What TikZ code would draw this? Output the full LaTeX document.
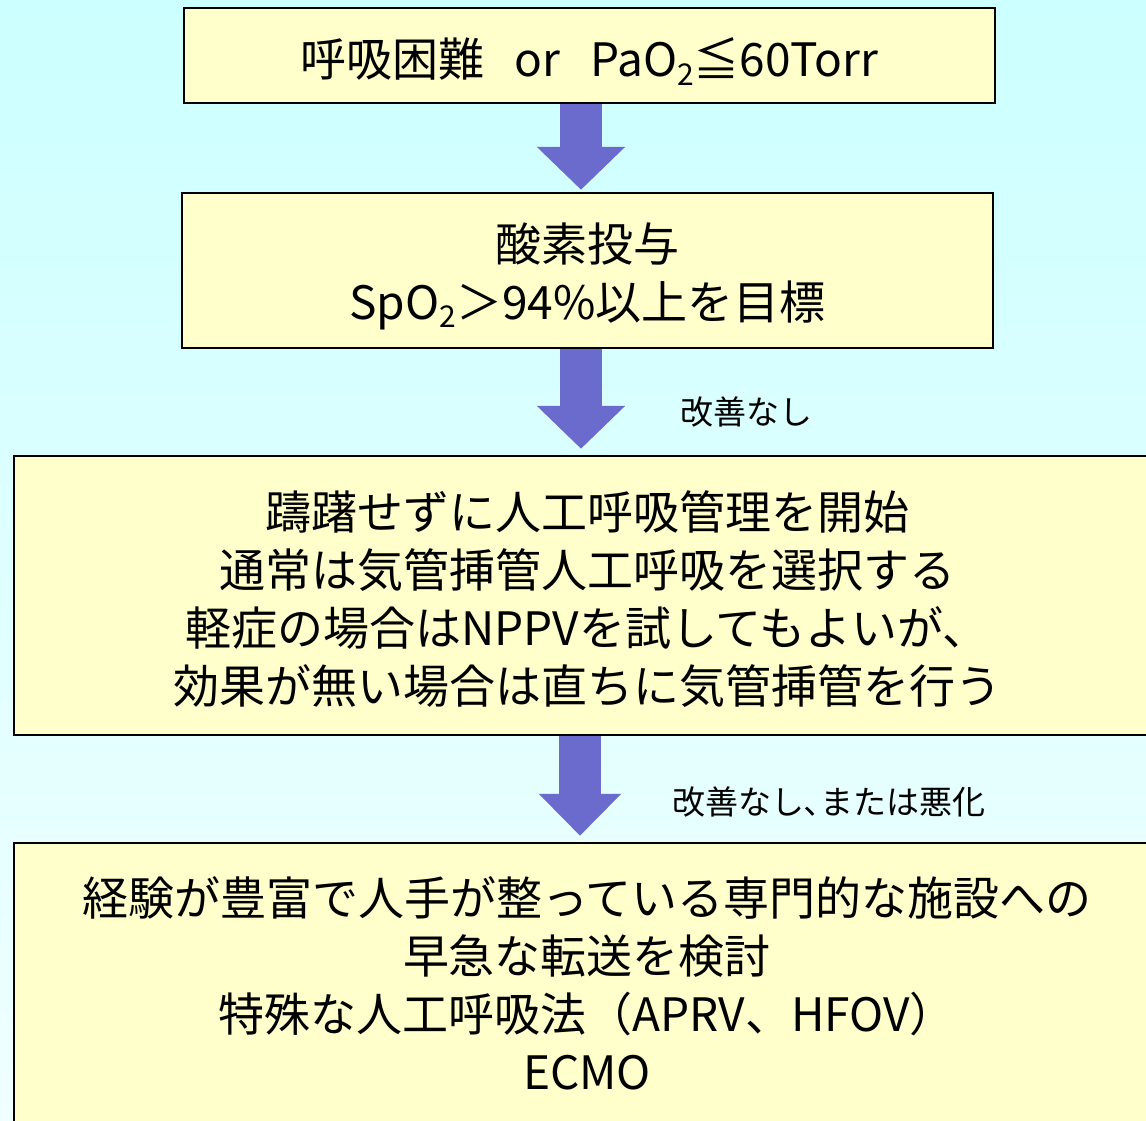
\documentclass[tikz,border=0pt]{standalone}
\usepackage{fontspec}
\setmainfont{Noto Sans CJK JP}
\usetikzlibrary{arrows.meta}
\definecolor{bgtop}{RGB}{204,255,255}
\definecolor{bgbot}{RGB}{240,255,255}
\definecolor{boxfill}{RGB}{255,255,204}
\definecolor{arrowc}{RGB}{107,107,206}
\newcommand{\subtwo}{\raisebox{-0.35ex}{\fontsize{30}{30}\selectfont 2}}
\begin{document}
\begin{tikzpicture}[x=1pt,y=-1pt,
  flowbox/.style={draw=black, line width=2.5pt, fill=boxfill, align=center,
    inner sep=0pt, font=\fontsize{46}{58}\selectfont},
  bigarrow/.style={draw=arrowc, line width=42pt,
    -{Triangle[width=86pt,length=43pt]}},
  lbl/.style={anchor=west, inner sep=0pt, font=\fontsize{33}{38}\selectfont}]
\useasboundingbox (0,0) rectangle (1146,1120);
\clip (0,0) rectangle (1146,1120);
\shade[top color=bgtop, bottom color=bgbot] (0,0) rectangle (1146,1120);

\node[flowbox, minimum width=811pt, minimum height=95pt] (b1) at (589.5,55.5)
  {\rule{0pt}{50.5pt}呼吸困難\hspace{30pt}or\hspace{30pt}PaO\subtwo≦60Torr};
\node[flowbox, minimum width=811pt, minimum height=155pt] (b2) at (587.5,270.5)
  {\rule{0pt}{50pt}酸素投与\\SpO\subtwo＞94\%以上を目標};
\node[flowbox, minimum width=1146pt, minimum height=279pt] (b3) at (587,595.5)
  {\rule{0pt}{47pt}躊躇せずに人工呼吸管理を開始\\通常は気管挿管人工呼吸を選択する\\軽症の場合はNPPVを試してもよいが、\\効果が無い場合は直ちに気管挿管を行う};
\node[flowbox, minimum width=1146pt, minimum height=288pt] (b4) at (587,987)
  {経験が豊富で人手が整っている専門的な施設への\\早急な転送を検討\\特殊な人工呼吸法（APRV、HFOV）\\ECMO\rule[-8.5pt]{0pt}{1pt}};

\coordinate (ax1) at (581,0);
\coordinate (ax3) at (580,0);
\draw[bigarrow, shorten >=2pt] (b1.south -| ax1) -- (b2.north -| ax1);
\draw[bigarrow, shorten >=6pt] (b2.south -| ax1) -- (b3.north -| ax1);
\draw[bigarrow, shorten >=6pt, -{Triangle[width=80pt,length=42pt]}] (b3.south -| ax3) -- (b4.north -| ax3);

\node[lbl] (l1) at (680,412) {改善なし};
\node[lbl] (l2) at (672,802) {改善なし､または悪化};
\end{tikzpicture}
\end{document}
